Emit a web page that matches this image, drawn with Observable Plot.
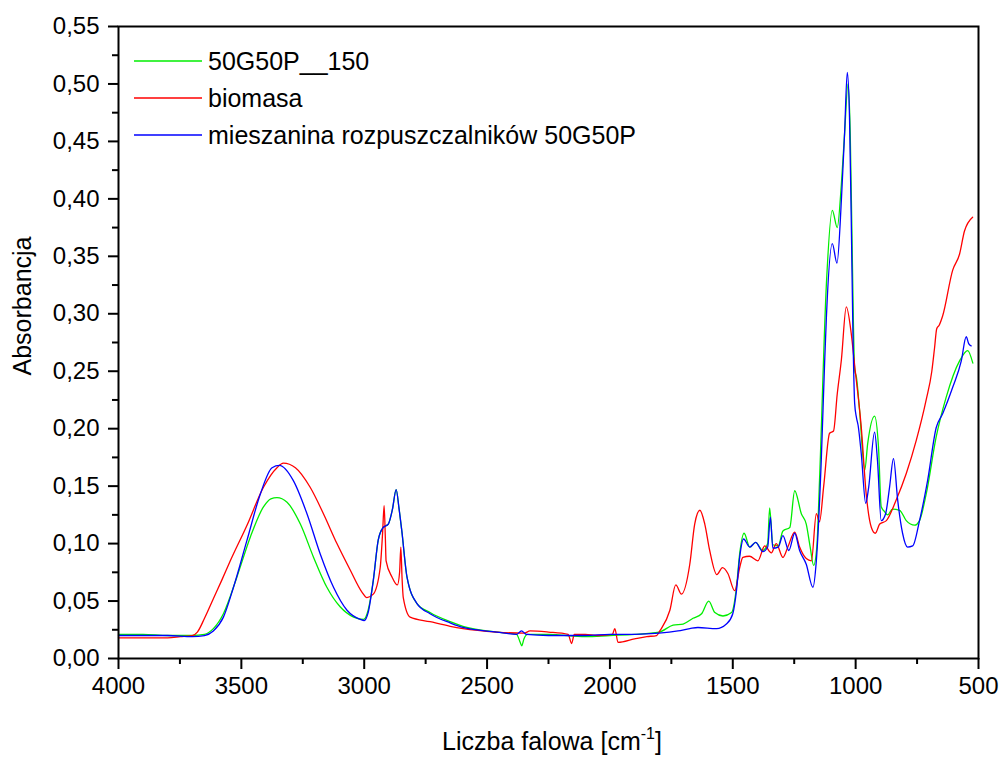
<!DOCTYPE html>
<html><head><meta charset="utf-8">
<script src="https://cdn.jsdelivr.net/npm/d3@7"></script>
<script src="https://cdn.jsdelivr.net/npm/@observablehq/plot@0.6"></script>
<style>
body{margin:0;background:#fff;}
#chart{position:relative;width:1002px;height:758px;}
</style>
</head><body><div id="chart"></div>
<script>
const seriesNames = ["50G50P__150", "biomasa", "mieszanina rozpuszczalników 50G50P"];
const seriesColors = ["#00ee00", "#ff0000", "#0000ff"];

// [wavenumber cm-1, absorbance]
const green50G50P150 = [[4000,0.021],[3900,0.021],[3800,0.020],[3700,0.020],[3650,0.021],[3614,0.026],[3573,0.039],[3518,0.071],[3463,0.106],[3410,0.132],[3380,0.139],[3355,0.140],[3314,0.136],[3260,0.117],[3206,0.088],[3152,0.062],[3098,0.045],[3043,0.036],[3003,0.034],[2984,0.042],[2963,0.068],[2943,0.103],[2923,0.114],[2902,0.117],[2885,0.130],[2870,0.147],[2858,0.130],[2847,0.111],[2826,0.071],[2786,0.048],[2732,0.040],[2650,0.032],[2598,0.028],[2461,0.023],[2380,0.021],[2365,0.014],[2359,0.011],[2350,0.017],[2335,0.021],[2250,0.021],[2100,0.019],[2000,0.020],[1900,0.021],[1800,0.023],[1743,0.029],[1702,0.030],[1662,0.035],[1627,0.039],[1598,0.050],[1573,0.040],[1540,0.037],[1505,0.040],[1485,0.062],[1472,0.091],[1454,0.109],[1431,0.097],[1407,0.101],[1378,0.094],[1358,0.100],[1350,0.131],[1337,0.099],[1315,0.098],[1296,0.111],[1268,0.114],[1248,0.146],[1221,0.126],[1201,0.117],[1185,0.097],[1171,0.081],[1158,0.097],[1147,0.155],[1119,0.326],[1095,0.390],[1075,0.375],[1058,0.413],[1045,0.457],[1031,0.500],[1022,0.457],[1014,0.355],[1004,0.251],[997,0.245],[984,0.216],[963,0.164],[951,0.187],[923,0.211],[907,0.184],[896,0.132],[883,0.128],[870,0.125],[850,0.130],[821,0.129],[794,0.120],[760,0.116],[740,0.120],[713,0.143],[672,0.193],[632,0.227],[577,0.259],[544,0.268],[523,0.257]];

const redBiomasa = [[4000,0.018],[3900,0.018],[3800,0.018],[3748,0.019],[3700,0.020],[3679,0.023],[3650,0.035],[3614,0.052],[3580,0.068],[3545,0.085],[3477,0.116],[3410,0.149],[3355,0.166],[3329,0.170],[3280,0.166],[3220,0.149],[3166,0.126],[3111,0.100],[3057,0.077],[3010,0.058],[2989,0.053],[2963,0.056],[2935,0.079],[2925,0.110],[2919,0.133],[2914,0.105],[2911,0.085],[2887,0.071],[2865,0.064],[2856,0.075],[2851,0.097],[2846,0.070],[2841,0.053],[2813,0.036],[2732,0.032],[2650,0.028],[2598,0.026],[2461,0.023],[2350,0.022],[2325,0.024],[2250,0.023],[2170,0.021],[2156,0.013],[2145,0.021],[2100,0.021],[2050,0.020],[1990,0.021],[1980,0.026],[1967,0.014],[1900,0.017],[1850,0.019],[1810,0.020],[1797,0.024],[1756,0.042],[1732,0.064],[1709,0.056],[1675,0.082],[1655,0.117],[1634,0.129],[1614,0.117],[1594,0.094],[1565,0.073],[1542,0.079],[1520,0.074],[1492,0.059],[1472,0.079],[1459,0.088],[1432,0.089],[1398,0.085],[1370,0.098],[1343,0.092],[1323,0.100],[1296,0.088],[1276,0.097],[1248,0.110],[1228,0.097],[1201,0.087],[1180,0.085],[1160,0.126],[1147,0.119],[1130,0.150],[1106,0.196],[1090,0.198],[1075,0.230],[1058,0.260],[1038,0.306],[1018,0.283],[1004,0.255],[977,0.201],[957,0.143],[936,0.114],[920,0.109],[902,0.117],[875,0.120],[835,0.138],[794,0.161],[753,0.190],[713,0.225],[690,0.250],[679,0.270],[670,0.287],[660,0.290],[646,0.298],[605,0.338],[577,0.352],[557,0.372],[524,0.384]];

const blueMieszanina = [[4000,0.020],[3900,0.020],[3800,0.020],[3700,0.019],[3650,0.020],[3614,0.024],[3573,0.036],[3532,0.062],[3477,0.103],[3423,0.143],[3375,0.166],[3345,0.168],[3289,0.155],[3233,0.126],[3179,0.091],[3125,0.062],[3070,0.042],[3016,0.034],[3000,0.033],[2984,0.040],[2963,0.068],[2943,0.103],[2923,0.114],[2902,0.117],[2885,0.130],[2870,0.147],[2858,0.130],[2847,0.111],[2826,0.071],[2786,0.048],[2732,0.039],[2650,0.031],[2598,0.027],[2461,0.023],[2380,0.021],[2360,0.024],[2340,0.021],[2250,0.020],[2100,0.020],[2000,0.021],[1900,0.021],[1800,0.022],[1723,0.024],[1675,0.026],[1642,0.027],[1566,0.026],[1526,0.030],[1500,0.039],[1485,0.059],[1472,0.088],[1456,0.104],[1431,0.097],[1407,0.101],[1378,0.093],[1358,0.097],[1347,0.123],[1337,0.096],[1315,0.097],[1296,0.107],[1272,0.094],[1248,0.109],[1228,0.094],[1201,0.082],[1174,0.062],[1160,0.085],[1140,0.172],[1126,0.259],[1119,0.297],[1095,0.361],[1076,0.344],[1058,0.399],[1045,0.457],[1034,0.510],[1025,0.471],[1018,0.384],[1011,0.283],[1004,0.222],[997,0.210],[990,0.203],[977,0.178],[959,0.135],[947,0.149],[923,0.197],[911,0.172],[896,0.120],[878,0.126],[862,0.149],[846,0.174],[829,0.138],[809,0.109],[789,0.097],[768,0.098],[740,0.120],[707,0.155],[672,0.201],[646,0.213],[605,0.236],[570,0.259],[550,0.280],[540,0.274],[530,0.272]];

const xMajorTicks = [4000, 3500, 3000, 2500, 2000, 1500, 1000, 500];
const xMinorTicks = [3750, 3250, 2750, 2250, 1750, 1250, 750];
const yMajorTicks = [0, 0.05, 0.10, 0.15, 0.20, 0.25, 0.30, 0.35, 0.40, 0.45, 0.50, 0.55];
const yMinorTicks = [0.025, 0.075, 0.125, 0.175, 0.225, 0.275, 0.325, 0.375, 0.425, 0.475, 0.525];
const xTitle = "Liczba falowa [cm";
const xTitleSup = "-1";
const yTitle = "Absorbancja";

const rows = [
  ...green50G50P150.map(([w, a]) => ({w, a, s: seriesNames[0]})),
  ...redBiomasa.map(([w, a]) => ({w, a, s: seriesNames[1]})),
  ...blueMieszanina.map(([w, a]) => ({w, a, s: seriesNames[2]}))
];

const font = "'Liberation Sans', Arial, sans-serif";
const fmtY = d => d.toFixed(2).replace(".", ",");

const svg = Plot.plot({
  width: 1002, height: 758,
  marginLeft: 118, marginRight: 24, marginTop: 26, marginBottom: 100,
  style: {fontFamily: font, fontSize: "24px", background: "white", color: "black", overflow: "visible"},
  x: {domain: [4000, 500]},
  y: {domain: [0, 0.55]},
  color: {domain: seriesNames, range: seriesColors},
  marks: [
    Plot.line(rows, {x: "w", y: "a", z: "s", stroke: "s", strokeWidth: 1.3, curve: "monotone-x"}),
    Plot.frame({stroke: "black", strokeWidth: 2}),
    Plot.axisX({ticks: xMajorTicks, tickSize: 11, tickPadding: 7, tickFormat: d => String(d), label: null, strokeWidth: 2, fontSize: 24}),
    Plot.axisX({ticks: xMinorTicks, tickSize: 6, tickFormat: () => "", label: null, strokeWidth: 2}),
    Plot.axisY({ticks: yMajorTicks, tickSize: 10, tickPadding: 9, tickFormat: fmtY, label: null, strokeWidth: 2, fontSize: 24}),
    Plot.axisY({ticks: yMinorTicks, tickSize: 6, tickFormat: () => "", label: null, strokeWidth: 2})
  ]
});

document.getElementById("chart").appendChild(svg);
const s = d3.select(svg);

// axis titles
s.append("text")
  .attr("transform", "translate(31,306) rotate(-90)")
  .attr("text-anchor", "middle")
  .style("font-family", font).style("font-size", "25px").attr("fill", "black")
  .text(yTitle);

const xt = s.append("text")
  .attr("x", 552).attr("y", 750)
  .attr("text-anchor", "middle")
  .style("font-family", font).style("font-size", "25px").attr("fill", "black");
xt.append("tspan").text(xTitle);
xt.append("tspan").attr("dy", "-11").style("font-size", "16px").text(xTitleSup);
xt.append("tspan").attr("dy", "11").text("]");

// legend
const lg = s.append("g").attr("text-anchor", "start");
seriesNames.forEach((name, i) => {
  const y = 61 + i * 37;
  lg.append("line").attr("x1", 134).attr("x2", 202).attr("y1", y).attr("y2", y)
    .attr("stroke", seriesColors[i]).attr("stroke-width", 1.3);
  lg.append("text").attr("x", 208).attr("y", y).attr("dy", "0.35em")
    .attr("text-anchor", "start")
    .style("font-family", font).style("font-size", "25px").attr("fill", "black")
    .text(name);
});
</script>
</body></html>
